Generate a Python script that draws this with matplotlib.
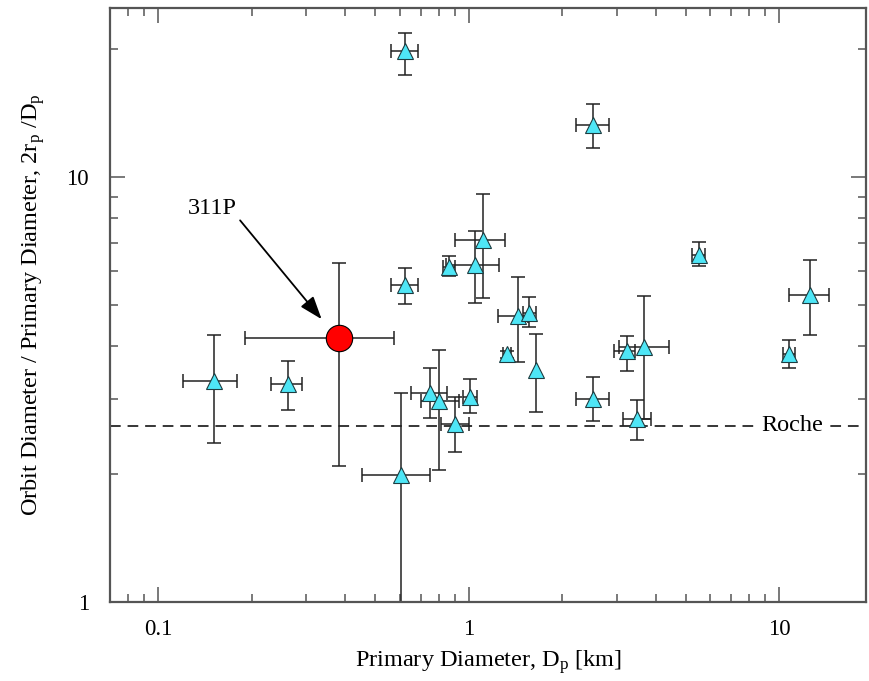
import matplotlib
matplotlib.use("Agg")
import matplotlib.pyplot as plt
import numpy as np

plt.rcParams['font.family'] = ['Liberation Serif', 'DejaVu Serif']
plt.rcParams['mathtext.fontset'] = 'custom'
plt.rcParams['mathtext.rm'] = 'Liberation Serif'
plt.rcParams['mathtext.it'] = 'Liberation Serif:italic'

# Binary asteroids: primary diameter (km) and orbit / primary diameter, with error ranges
dp = [0.622, 2.52, 0.622, 0.861, 1.045, 1.109, 5.50, 12.57, 0.151, 0.261, 0.604,
      0.752, 0.805, 0.906, 1.01, 1.436, 1.566, 1.328, 1.646, 2.51, 3.23, 3.66,
      3.49, 10.76]
dp_lo = [0.563, 2.21, 0.563, 0.825, 0.846, 0.906, 5.24, 10.7, 0.120, 0.231, 0.452,
         0.653, 0.70, 0.815, 0.96, 1.24, 1.50, 1.29, 1.646, 2.21, 2.93, 3.05,
         3.14, 10.3]
dp_hi = [0.686, 2.83, 0.686, 0.906, 1.25, 1.31, 5.78, 14.4, 0.180, 0.290, 0.753,
         0.852, 0.93, 1.0, 1.06, 1.55, 1.64, 1.37, 1.646, 2.83, 3.44, 4.41,
         3.85, 11.2]
ratio = [19.8, 13.27, 5.56, 6.14, 6.22, 7.10, 6.54, 5.29, 3.31, 3.26, 1.99,
         3.11, 2.98, 2.63, 3.04, 4.72, 4.78, 3.83, 3.52, 3.01, 3.89, 3.99,
         2.69, 3.83]
ratio_lo = [17.4, 11.7, 5.02, 5.84, 5.05, 5.19, 6.16, 4.25, 2.37, 2.83, 0.5,
            2.71, 2.05, 2.26, 2.78, 3.67, 4.44, 3.75, 2.80, 2.66, 3.50, 2.69,
            2.41, 3.55]
ratio_hi = [21.8, 14.9, 6.1, 6.52, 7.47, 9.10, 7.05, 6.38, 4.26, 3.69, 3.10,
            3.55, 3.91, 3.04, 3.34, 5.81, 5.21, 3.9, 4.28, 3.39, 4.23, 5.26,
            2.99, 4.14]

# 311P
p311_dp, p311_dp_lo, p311_dp_hi = 0.3825, 0.19, 0.573
p311_ratio, p311_ratio_lo, p311_ratio_hi = 4.18, 2.09, 6.29

roche = 2.6

dp = np.array(dp)
ratio = np.array(ratio)
xerr = [dp - np.array(dp_lo), np.array(dp_hi) - dp]
yerr = [ratio - np.array(ratio_lo), np.array(ratio_hi) - ratio]

fig = plt.figure(figsize=(8.7, 6.81), dpi=100)
ax = fig.add_axes([110 / 870, 79 / 681, 756 / 870, 594 / 681])
ax.set_xscale('log')
ax.set_yscale('log')

ax.axhline(roche, color='black', lw=1.1, ls=(0, (7, 4.5)), zorder=1)

ax.errorbar(dp, ratio, xerr=xerr, yerr=yerr, fmt='none', ecolor='#222222',
            elinewidth=1.1, capsize=5, capthick=1.1, zorder=2)
ax.plot(dp, ratio, ls='none', marker='^', ms=12, mfc='#4ee6f6', mec='#1d3c40',
        mew=0.8, zorder=3)

ax.errorbar([p311_dp], [p311_ratio],
            xerr=[[p311_dp - p311_dp_lo], [p311_dp_hi - p311_dp]],
            yerr=[[p311_ratio - p311_ratio_lo], [p311_ratio_hi - p311_ratio]],
            fmt='none', ecolor='#222222', elinewidth=1.1, capsize=5, capthick=1.1,
            zorder=2)
ax.plot([p311_dp], [p311_ratio], ls='none', marker='o', ms=19, mfc='#ff0000',
        mec='black', mew=0.8, zorder=3)

ax.annotate('', xy=(0.336, 4.63), xytext=(0.1836, 7.91),
            arrowprops=dict(arrowstyle='-|>,head_length=0.7,head_width=0.25',
                            color='black', lw=1.3, mutation_scale=20,
                            shrinkA=0, shrinkB=0))
ax.text(0.149, 8.45, '311P', fontsize=17.5, ha='center', va='center')
ax.text(11.0, roche, 'Roche', fontsize=17.5, ha='center', va='center',
        bbox=dict(facecolor='white', edgecolor='none', pad=1), zorder=2)

ax.set_xlim(0.07, 19)
ax.set_ylim(1, 25)

ax.xaxis.set_major_locator(matplotlib.ticker.FixedLocator([0.1, 1, 10]))
ax.xaxis.set_major_formatter(matplotlib.ticker.FixedFormatter(['0.1', '1', '10']))
ax.xaxis.set_minor_locator(matplotlib.ticker.LogLocator(base=10, subs=np.arange(2, 10)))
ax.xaxis.set_minor_formatter(matplotlib.ticker.NullFormatter())
ax.yaxis.set_major_locator(matplotlib.ticker.FixedLocator([1, 10]))
ax.yaxis.set_major_formatter(matplotlib.ticker.FixedFormatter(['1', '10']))
ax.yaxis.set_minor_locator(matplotlib.ticker.LogLocator(base=10, subs=np.arange(2, 10)))
ax.yaxis.set_minor_formatter(matplotlib.ticker.NullFormatter())

ax.tick_params(which='both', direction='in', top=True, right=True,
               color='#555555', width=1.1, labelsize=16.5)
ax.tick_params(which='major', length=11)
ax.tick_params(which='minor', length=5.5)
ax.tick_params(axis='y', which='major', pad=15)
ax.tick_params(axis='x', which='major', pad=12)

for s in ax.spines.values():
    s.set_color('#555555')
    s.set_linewidth(1.6)

ax.set_xlabel('Primary Diameter, D$_\\mathrm{p}$ [km]', fontsize=17.5, labelpad=6)
ax.set_ylabel('Orbit Diameter / Primary Diameter, 2r$_\\mathrm{p}$ /D$_\\mathrm{p}$',
              fontsize=17.5, labelpad=14)

fig.savefig('out.png', dpi=100)
